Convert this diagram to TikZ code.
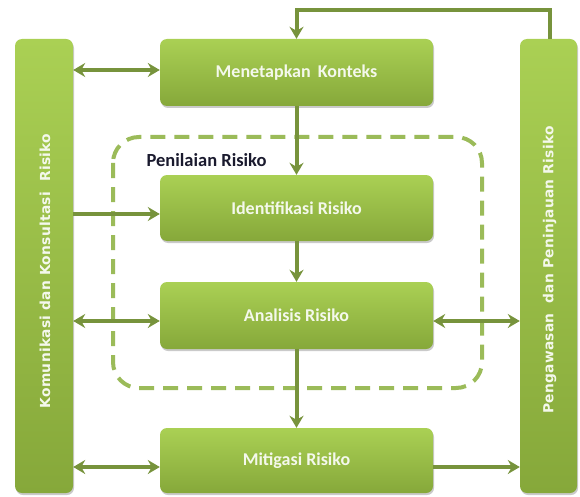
\documentclass[tikz,border=0pt]{standalone}
\usepackage{fontspec}
\usetikzlibrary{arrows.meta,shadows}
\newfontfamily\boxfont{Carlito}
\newfontfamily\vfont{DejaVu Sans}[LetterSpace=2]
\definecolor{gtop}{HTML}{AAD054}
\definecolor{gbot}{HTML}{86A83A}
\definecolor{arr}{HTML}{77933C}
\definecolor{dashc}{HTML}{9BBB59}
\definecolor{txt}{HTML}{F4F8EC}
\definecolor{lbl}{HTML}{1A1A2E}
\tikzset{
  gbox/.style={rectangle, rounded corners=7pt, top color=gtop, bottom color=gbot, draw=none,
    drop shadow={shadow xshift=1pt, shadow yshift=-2pt, opacity=0.35, fill=black!60},
    text=txt, font=\boxfont\bfseries\fontsize{18}{20}\selectfont, inner sep=0pt},
  bar/.style={gbox, minimum width=58pt, minimum height=454pt},
  stepbox/.style={gbox, minimum width=273pt, minimum height=66pt},
  vtext/.style={rotate=90, text=txt, font=\vfont\bfseries\fontsize{13.8}{16}\selectfont},
  conn/.style={draw=arr, line width=4pt},
  tip/.style={-{Stealth[length=12pt,width=14pt,inset=4pt]}},
  tips/.style={{Stealth[length=12pt,width=14pt,inset=4pt]}-{Stealth[length=12pt,width=14pt,inset=4pt]}},
}
\begin{document}
\begin{tikzpicture}[x=1pt,y=-1pt]
\useasboundingbox (0,0) rectangle (580,497);
% dashed assessment region
\draw[dashc, line width=4pt, dash pattern=on 15pt off 9pt, rounded corners=26pt]
  (113,137) rectangle (482,388);
\node[font=\boxfont\bfseries\fontsize{18.5}{20}\selectfont, text=lbl, anchor=west] (pl) at (143,160) {Penilaian Risiko};
% bars
\node[bar] (L) at (44,266) {};
\node[vtext] (Lt) at (45,271) {Komunikasi dan Konsultasi\ \ Risiko};
\node[bar, minimum width=57pt] (R) at (548.5,266) {};
\node[vtext] (Rt) at (549.5,270) {Pengawasan\ \ dan Peninjauan Risiko};
% steps
\node[stepbox, minimum height=67pt] (K) at (296.5,72.5) {Menetapkan\ \,Konteks};
\node[stepbox] (I) at (296.5,208) {Identifikasi Risiko};
\node[stepbox, minimum height=67pt] (A) at (296.5,315.5) {Analisis Risiko};
\node[stepbox, minimum height=65pt] (M) at (296.5,460.5) {Mitigasi Risiko};
% vertical flow
\draw[conn, tip] (K.south) -- (I.north);
\draw[conn, tip] (I.south) -- (A.north);
\draw[conn, tip] (A.south) -- (M.north);
% feedback loop
\coordinate (fb1) at (550,10);
\coordinate (fb2) at (296.5,10);
\draw[conn, tip] (R.north -| fb1) -- (fb1) -- (fb2) -- (K.north);
% side connectors
\draw[conn, tips] (L.east |- 0,70) -- (K.west |- 0,70);
\draw[conn, tip] (L.east |- 0,214) -- (I.west |- 0,214);
\draw[conn, tips] (L.east |- 0,321) -- (A.west |- 0,321);
\draw[conn, tips] (L.east |- 0,467) -- (M.west |- 0,467);
\draw[conn, tips] (A.east |- 0,321) -- (R.west |- 0,321);
\draw[conn, tip] (M.east |- 0,467) -- (R.west |- 0,467);
\end{tikzpicture}
\end{document}
